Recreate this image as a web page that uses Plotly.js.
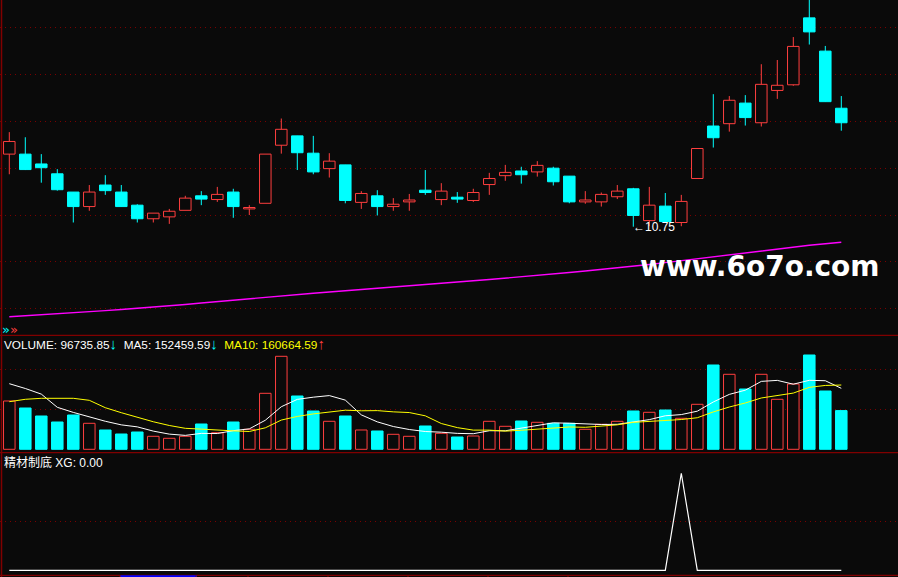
<!DOCTYPE html>
<html><head><meta charset="utf-8">
<script src="https://cdn.plot.ly/plotly-3.0.1.min.js"></script>
<style>html,body{margin:0;padding:0;background:#0a0a0a;overflow:hidden}#chart{width:898px;height:577px}</style>
</head><body><div id="chart"></div>
<script>
// ---- data ----
const openP  = [12.30,12.30,12.09,11.88,11.49,11.18,11.64,11.49,11.21,10.92,10.96,11.10,11.41,11.33,11.49,11.13,11.25,12.49,12.69,12.32,11.99,12.07,11.27,11.41,11.18,11.28,11.53,11.33,11.38,11.31,11.65,11.84,11.94,11.92,12.00,11.83,11.28,11.28,11.39,11.56,10.88,11.19,10.84,11.78,12.90,12.95,13.39,12.97,13.66,13.78,15.21,14.50,13.28];
const highP  = [12.77,12.66,12.30,11.98,11.49,11.64,11.85,11.64,11.23,11.04,11.13,11.41,11.51,11.60,11.56,11.21,12.30,13.06,12.69,12.69,12.32,12.07,11.51,11.53,11.36,11.45,11.96,11.68,11.49,11.56,11.90,12.07,12.03,12.15,12.03,11.83,11.51,11.48,11.64,11.58,11.60,11.47,11.43,12.42,13.58,13.54,13.56,14.22,14.31,14.80,15.62,14.61,13.54];
const lowP   = [11.87,11.96,11.69,11.52,10.84,11.09,11.43,11.18,10.84,10.84,10.81,11.10,11.21,11.28,10.94,11.00,11.25,12.31,11.96,11.87,11.80,11.25,11.13,10.99,11.09,11.09,11.43,11.21,11.26,11.28,11.43,11.73,11.67,11.82,11.63,11.25,11.24,11.18,11.34,10.75,10.76,10.86,10.76,11.78,12.44,12.78,12.91,12.89,13.48,13.76,14.64,13.42,12.80];
const closeP = [12.57,11.97,12.01,11.54,11.18,11.49,11.52,11.18,10.92,11.04,11.08,11.36,11.34,11.44,11.18,11.16,12.30,12.83,12.33,11.92,12.15,11.31,11.46,11.18,11.23,11.32,11.48,11.51,11.34,11.48,11.78,11.91,11.86,12.06,11.71,11.28,11.32,11.44,11.51,10.99,11.21,10.86,11.29,12.42,12.65,13.45,13.08,13.79,13.77,14.60,14.91,13.42,12.97];
const priceMA = [8.828,8.848,8.867,8.886,8.909,8.933,8.959,8.982,9.006,9.031,9.057,9.089,9.121,9.153,9.185,9.217,9.249,9.281,9.307,9.330,9.356,9.381,9.407,9.433,9.458,9.484,9.512,9.539,9.567,9.595,9.623,9.650,9.678,9.708,9.740,9.772,9.804,9.836,9.868,9.905,9.943,9.984,10.026,10.069,10.112,10.154,10.197,10.238,10.278,10.317,10.353,10.385,10.417];
const volume = [120750,103250,83250,68250,85750,65000,48250,38250,43250,32500,27500,32500,63250,41500,68250,50000,140000,232500,133250,95750,70000,83250,48250,45750,37500,32500,58250,40000,30750,33250,70000,57500,70750,67500,65000,65000,50000,62500,70000,95750,92500,98250,77500,112500,210750,187500,150750,187500,125000,163250,235750,145750,96735.85];
const volMA5 = [164000,152000,138000,105000,92250,81100,70100,61100,56100,45450,37950,34800,39800,39450,46600,51100,72600,106450,124800,130300,134300,122950,86100,68600,56950,49450,44450,42800,39800,38950,46450,46300,52450,59800,66150,65150,63650,62000,62500,68650,74150,83800,86800,95300,118300,137300,147800,169800,172300,162800,172450,171450,152459.59];
const volMA10 = [119000,125000,127500,127500,127500,122500,104000,91500,80000,68850,59525,52450,50450,47775,46025,44525,53700,73125,82125,88450,92700,97775,96275,96700,93625,91875,83700,64450,54200,47950,47950,45375,47625,49800,52550,55800,54975,57225,61150,67400,69650,73725,74400,78900,93475,105725,115800,128300,133800,140550,154875,159625,160664.59];
const xgValues = [0,0,0,0,0,0,0,0,0,0,0,0,0,0,0,0,0,0,0,0,0,0,0,0,0,0,0,0,0,0,0,0,0,0,0,0,0,0,0,0,0,0,1,0,0,0,0,0,0,0,0,0,0];
const priceGrid = [9,10,11,12,13,14,15];
const volGrid = [100000,200000];
const xgGrid = [0.5];

// ---- styles ----
const W=898,H=577;
const RED='#ff3f3f', CYAN='#00ffff', BG='#0a0a0a', GRID='#7a0000', BORDER='#800000';
const px=v=>v/W, py=v=>1-v/H;
const idx = openP.map((_,i)=>i);
const up = idx.filter(i=>closeP[i]>=openP[i]);
const dn = idx.filter(i=>closeP[i]<openP[i]);
const BW=0.72, minBody=0.012;

function bodyTrace(list, isUp){
  return {type:'bar', xaxis:'x', yaxis:'y', x:list,
    base:list.map(i=>Math.min(openP[i],closeP[i])),
    y:list.map(i=>Math.max(Math.abs(closeP[i]-openP[i]),minBody)),
    width:BW, marker:{color:isUp?BG:CYAN, line:{color:isUp?RED:CYAN,width:1}}, hoverinfo:'skip'};
}
function wickTrace(list, isUp){
  const xs=[], ys=[];
  list.forEach(i=>{
    const top=Math.max(openP[i],closeP[i]), bot=Math.min(openP[i],closeP[i]);
    if(isUp){ xs.push(i,i,null,i,i,null); ys.push(highP[i],top,null,bot,lowP[i],null); }
    else { xs.push(i,i,null); ys.push(highP[i],lowP[i],null); }
  });
  return {type:'scatter', mode:'lines', xaxis:'x', yaxis:'y', x:xs, y:ys, line:{color:isUp?RED:CYAN,width:1}, hoverinfo:'skip'};
}
function volTrace(list, isUp){
  return {type:'bar', xaxis:'x', yaxis:'y2', x:list, y:list.map(i=>volume[i]), base:list.map(()=>0),
    width:BW, marker:{color:isUp?BG:CYAN, line:{color:isUp?RED:CYAN,width:1}}, hoverinfo:'skip'};
}

const traces = [
  wickTrace(dn,false), wickTrace(up,true),
  bodyTrace(dn,false), bodyTrace(up,true),
  {type:'scatter',mode:'lines',xaxis:'x',yaxis:'y',x:idx,y:priceMA,line:{color:'#ff00ff',width:1.4},hoverinfo:'skip'},
  volTrace(dn,false), volTrace(up,true),
  {type:'scatter',mode:'lines',xaxis:'x',yaxis:'y2',x:idx,y:volMA5,line:{color:'#ffffff',width:1},hoverinfo:'skip'},
  {type:'scatter',mode:'lines',xaxis:'x',yaxis:'y2',x:idx,y:volMA10,line:{color:'#ffff00',width:1},hoverinfo:'skip'},
  {type:'scatter',mode:'lines',xaxis:'x',yaxis:'y3',x:idx,y:xgValues,line:{color:'#ffffff',width:1.2},hoverinfo:'skip'}
];

const yBase = {showticklabels:false, ticks:'', showline:false, zeroline:false, gridcolor:GRID, griddash:'1px,4px', gridwidth:1, fixedrange:true};
const last = volume.length-1;
let minI = 0; lowP.forEach((v,i)=>{ if(v<lowP[minI]) minI=i; });
const TXT = 'Liberation Sans, Arial, sans-serif';
const arrow = (a,b)=> a<b ? '<span style="color:'+CYAN+';font-size:15px">↓</span>' : '<span style="color:'+RED+';font-size:15px">↑</span>';

const volText = 'VOLUME: '+volume[last].toFixed(2)+arrow(volume[last],volume[last-1])+
  '  MA5: '+volMA5[last].toFixed(2)+arrow(volMA5[last],volMA5[last-1])+
  '  <span style="color:#ffff00">MA10: '+volMA10[last].toFixed(2)+'</span>'+arrow(volMA10[last],volMA10[last-1]);

const annotations = [
  {xref:'paper',yref:'paper',x:px(2),y:py(343),xanchor:'left',yanchor:'middle',showarrow:false,
   text:volText,font:{family:TXT,size:11.8,color:'#ffffff'}},
  {xref:'paper',yref:'paper',x:px(2),y:py(462),xanchor:'left',yanchor:'middle',showarrow:false,
   text:'精材制底 XG: '+xgValues[last].toFixed(2),font:{family:'Liberation Sans, Noto Sans CJK SC, sans-serif',size:12,color:'#ffffff'}},
  {xref:'x',yref:'y',x:minI,y:lowP[minI],xanchor:'left',yanchor:'middle',xshift:-2,showarrow:false,
   text:'←'+lowP[minI].toFixed(2),font:{family:TXT,size:12,color:'#ffffff'}},
  {xref:'paper',yref:'paper',x:px(760),y:py(266),xanchor:'center',yanchor:'middle',showarrow:false,
   text:'<b>www.6o7o.com</b>',font:{family:'DejaVu Sans, sans-serif',size:28,color:'#ffffff'}},
  {xref:'paper',yref:'paper',x:px(0),y:py(329),xanchor:'left',yanchor:'middle',showarrow:false,
   text:'<span style="color:'+CYAN+'">»</span><span style="color:'+RED+'">»</span>',font:{family:'DejaVu Sans',size:13,color:CYAN}}
];

const hline=(y,c,w)=>({type:'line',xref:'paper',yref:'paper',x0:0,x1:1,y0:py(y),y1:py(y),line:{color:c,width:w}});
const shapes = [
  hline(335.3,BORDER,1.2), hline(452.7,BORDER,1.2), hline(575.3,BORDER,1.2),
  {type:'line',xref:'paper',yref:'paper',x0:px(1.5),x1:px(1.5),y0:0,y1:1,line:{color:BORDER,width:1.5}},
  {type:'line',xref:'paper',yref:'paper',x0:px(120),x1:px(197),y0:py(576.3),y1:py(576.3),line:{color:'#0000ff',width:2}}
];
[120,196,248,328,408,488,568].forEach(t=>shapes.push({type:'line',xref:'paper',yref:'paper',x0:px(t),x1:px(t),y0:py(575.3),y1:0,line:{color:BORDER,width:1}}));

const layout = {
  width:W, height:H, margin:{l:0,r:0,t:0,b:0}, paper_bgcolor:BG, plot_bgcolor:BG,
  showlegend:false, barmode:'overlay', bargap:0,
  xaxis:{visible:false, range:[-0.581,55.544], fixedrange:true},
  yaxis:Object.assign({}, yBase, {domain:[1-335.3/H,1], range:[8.4311,15.5911], tickvals:priceGrid}),
  yaxis2:Object.assign({}, yBase, {domain:[1-452.7/H,1-335.3/H], range:[-8500,285000], tickvals:volGrid}),
  yaxis3:Object.assign({}, yBase, {domain:[0,1-452.7/H], range:[-0.069,1.212], tickvals:xgGrid}),
  annotations:annotations, shapes:shapes
};
Plotly.newPlot('chart', traces, layout, {staticPlot:true, displayModeBar:false});
</script></body></html>
